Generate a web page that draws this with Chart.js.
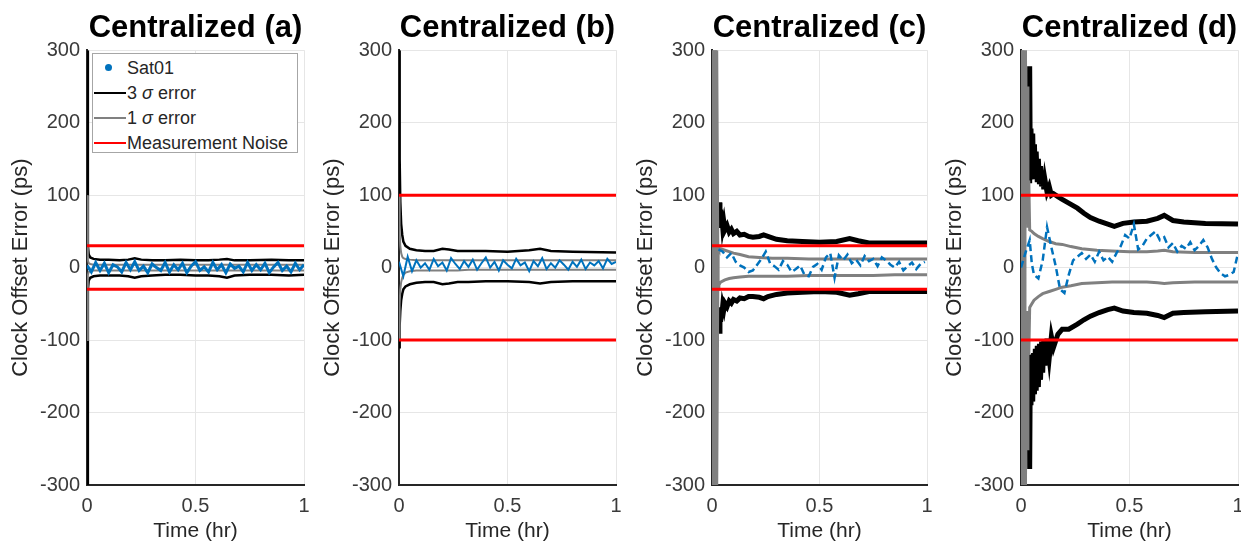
<!DOCTYPE html>
<html>
<head>
<meta charset="utf-8">
<script src="https://cdn.jsdelivr.net/npm/chart.js@4.4.0/dist/chart.umd.min.js"></script>
<style>
  body { margin: 0; background: #fff; }
  #fig { position: relative; width: 1241px; height: 544px; overflow: hidden; font-family: "Liberation Sans", Arial, sans-serif; }
  #fig canvas { position: absolute; top: 0; }
  #legend { position: absolute; left: 92px; top: 53px; width: 206px; height: 100px; border: 1px solid #a6a6a6; background: #fff; box-sizing: border-box; font-size: 18px; color: #262626; }
  .item { position: absolute; left: 0; width: 100%; height: 20px; }
  .sw { position: absolute; left: 1px; width: 32px; top: 9px; height: 2px; }
  .dot { position: absolute; left: 12px; top: 6px; width: 7px; height: 7px; border-radius: 50%; background: #0072bd; }
  .lbl { position: absolute; left: 34px; top: 0; line-height: 20px; white-space: nowrap; }
</style>
</head>
<body>
<div id="fig">
  <canvas id="pa"></canvas>
  <canvas id="pb"></canvas>
  <canvas id="pc"></canvas>
  <canvas id="pd"></canvas>
  <div id="legend">
    <div class="item" style="top:4px"><div class="dot"></div><span class="lbl">Sat01</span></div>
    <div class="item" style="top:29px"><div class="sw" style="background:#000"></div><span class="lbl">3 <i>σ</i> error</span></div>
    <div class="item" style="top:54px"><div class="sw" style="background:#808080"></div><span class="lbl">1 <i>σ</i> error</span></div>
    <div class="item" style="top:79px"><div class="sw" style="background:#ff0000"></div><span class="lbl">Measurement Noise</span></div>
  </div>
</div>
<script>
// axis ticks
var xTicks = [0, 0.5, 1];
var yTicks = [-300, -200, -100, 0, 100, 200, 300];
var tNoise = [0, 1];
var noiseLevels = [30, 100, 30, 100];

// Sat01 estimates, panels (a) and (b)
var tSatAB = [0, 0.02, 0.04, 0.06, 0.08, 0.1, 0.12, 0.14, 0.16, 0.18, 0.2, 0.22, 0.24, 0.26, 0.28, 0.3, 0.32, 0.34, 0.36, 0.38, 0.4, 0.42, 0.44, 0.46, 0.48, 0.5, 0.52, 0.54, 0.56, 0.58, 0.6, 0.62, 0.64, 0.66, 0.68, 0.7, 0.72, 0.74, 0.76, 0.78, 0.8, 0.82, 0.84, 0.86, 0.88, 0.9, 0.92, 0.94, 0.96, 0.98, 1];
var sat01A = [3, -6, 7, -4, 6, -7, 4, 1, -6, 7, -3, 8, -4, 2, -7, 5, 0, -4, 7, -6, 4, -3, 6, -7, 2, 8, -4, 1, -6, 7, -3, 4, -7, 5, -1, 2, -6, 7, -4, 4, -3, 6, -7, 1, 7, -4, 2, -6, 6, -3, 4];
var sat01B = [8, -12, 15, -5, 10, 0, 6, -3, 12, 2, 7, -4, 13, 5, -2, 9, 1, 11, -3, 6, 14, 0, 8, -4, 10, 4, -1, 12, 3, 7, -5, 9, 2, 13, -2, 6, 0, 10, 4, -3, 8, 1, 11, -2, 7, 3, 9, -1, 12, 5, 8];

// sigma envelopes, panel (a)
var tSigA = [0, 0.004, 0.008, 0.015, 0.03, 0.06, 0.1, 0.15, 0.19, 0.22, 0.25, 0.3, 0.36, 0.43, 0.5, 0.56, 0.61, 0.645, 0.68, 0.75, 0.85, 0.93, 1];
var sig3UpA = [300, 30, 18, 14, 12, 11, 11, 10, 11, 13, 11, 10, 10, 11, 10, 10, 11, 12, 10, 10, 11, 10, 10];
var sig3LoA = [-300, -30, -18, -14, -12, -11, -11, -11, -12, -14, -12, -11, -10, -10, -11, -11, -12, -14, -11, -10, -10, -11, -10];
var sig1UpA = [100, 10, 6, 5, 4, 4, 4, 4, 4, 4, 4, 4, 4, 4, 4, 4, 4, 4, 4, 4, 4, 4, 4];
var sig1LoA = [-100, -10, -6, -5, -4, -4, -4, -4, -4, -4, -4, -4, -4, -4, -4, -4, -4, -4, -4, -4, -4, -4, -4];

// panel (b)
var tSigB = [0, 0.003, 0.006, 0.01, 0.015, 0.02, 0.03, 0.05, 0.08, 0.12, 0.16, 0.2, 0.23, 0.27, 0.32, 0.4, 0.5, 0.6, 0.65, 0.7, 0.8, 1];
var sig3UpB = [300, 150, 90, 60, 45, 36, 30, 26, 24, 23, 23, 26, 25, 23, 23, 23, 22, 24, 26, 23, 22, 21];
var sig3LoB = [-110, -80, -60, -45, -36, -30, -26, -23, -21, -20, -20, -23, -22, -20, -20, -19, -19, -20, -22, -20, -19, -19];
var sig1UpB = [100, 50, 30, 20, 15, 13, 12, 11, 10, 10, 10, 10, 10, 10, 10, 10, 10, 10, 10, 10, 10, 10];
var sig1LoB = [-100, -50, -30, -20, -14, -10, -7, -5, -4, -4, -4, -4, -4, -4, -3, -3, -3, -3, -3, -3, -3, -3];

// panel (c)
var tSatC = [0.03, 0.05, 0.07, 0.09, 0.11, 0.13, 0.15, 0.17, 0.19, 0.21, 0.23, 0.25, 0.27, 0.29, 0.31, 0.33, 0.35, 0.37, 0.39, 0.41, 0.43, 0.45, 0.47, 0.49, 0.51, 0.53, 0.55, 0.57, 0.59, 0.61, 0.63, 0.65, 0.67, 0.69, 0.71, 0.73, 0.75, 0.77, 0.79, 0.81, 0.83, 0.85, 0.87, 0.89, 0.91, 0.93, 0.95, 0.97, 0.99];
var sat01C = [25, 22, 14, 20, 8, 3, 0, -6, -4, 4, 12, 22, 6, 2, -3, 9, 4, -6, -2, 3, -10, -12, 1, 5, -3, 14, 20, -14, 17, 10, 18, 6, 11, 3, 16, 9, 12, 2, 14, 10, 4, 0, 8, -4, 2, 7, -2, 5, 8];
var tSig3C = [0.03, 0.032, 0.035, 0.037, 0.04, 0.043, 0.046, 0.05, 0.055, 0.06, 0.07, 0.08, 0.09, 0.1, 0.115, 0.13, 0.15, 0.17, 0.19, 0.22, 0.24, 0.26, 0.3, 0.35, 0.42, 0.5, 0.58, 0.64, 0.68, 0.73, 0.8, 0.9, 1];
var sig3UpC = [60, 70, 90, 62, 80, 58, 70, 55, 63, 52, 58, 49, 53, 47, 50, 45, 46, 43, 42, 43, 45, 43, 39, 37, 36, 35, 36, 40, 37, 34, 34, 34, 34];
var sig3LoC = [-60, -65, -88, -58, -75, -55, -65, -52, -58, -49, -54, -46, -49, -44, -46, -42, -43, -40, -40, -41, -43, -40, -37, -35, -34, -33, -34, -38, -36, -33, -33, -33, -33];
var tSig1C = [0.004, 0.01, 0.016, 0.022, 0.028, 0.032, 0.04, 0.06, 0.08, 0.1, 0.13, 0.17, 0.22, 0.28, 0.35, 0.45, 0.55, 0.65, 0.75, 0.85, 1];
var sig1UpC = [420, -400, 400, -300, 30, 27, 26, 24, 22, 20, 18, 15, 14, 13, 13, 12, 12, 12, 12, 12, 12];
var sig1LoC = [-420, 400, -400, 300, -30, -24, -20, -17, -15, -14, -13, -12, -12, -12, -12, -11, -11, -11, -11, -10, -10];

// panel (d)
var tSatD = [0, 0.02, 0.04, 0.05, 0.06, 0.08, 0.1, 0.12, 0.14, 0.16, 0.18, 0.2, 0.22, 0.24, 0.26, 0.28, 0.3, 0.32, 0.34, 0.36, 0.38, 0.4, 0.42, 0.44, 0.46, 0.48, 0.5, 0.52, 0.54, 0.56, 0.58, 0.6, 0.62, 0.64, 0.66, 0.68, 0.7, 0.72, 0.74, 0.76, 0.78, 0.8, 0.82, 0.84, 0.86, 0.88, 0.9, 0.92, 0.94, 0.96, 0.98, 1];
var sat01D = [0, 20, 38, 5, -10, -15, 10, 56, 28, 2, -30, -35, -10, 10, 15, 20, 12, 18, 8, 22, 10, 15, 8, 20, 30, 45, 40, 60, 25, 30, 40, 45, 50, 38, 42, 28, 34, 22, 30, 26, 35, 24, 30, 38, 28, 12, 0, -8, -12, -10, -6, 20];
var tSig3D = [0.038, 0.04, 0.043, 0.046, 0.05, 0.054, 0.058, 0.062, 0.066, 0.07, 0.075, 0.08, 0.085, 0.09, 0.095, 0.1, 0.105, 0.11, 0.12, 0.13, 0.14, 0.15, 0.17, 0.19, 0.22, 0.26, 0.29, 0.32, 0.36, 0.4, 0.43, 0.47, 0.52, 0.58, 0.63, 0.66, 0.7, 0.75, 0.85, 1];
var sig3UpD = [120, 278, 125, 192, 125, 185, 125, 170, 122, 160, 118, 150, 115, 140, 112, 130, 108, 122, 104, 112, 100, 102, 98, 94, 89, 82, 75, 69, 64, 60, 57, 61, 63, 64, 68, 72, 65, 63, 61, 60];
var sig3LoD = [-120, -278, -125, -190, -120, -185, -118, -175, -112, -170, -108, -165, -105, -155, -102, -145, -100, -135, -98, -125, -95, -110, -92, -85, -85, -78, -72, -67, -62, -58, -56, -60, -62, -63, -66, -69, -63, -62, -61, -60];
var tSig1D = [0.004, 0.008, 0.012, 0.016, 0.02, 0.024, 0.028, 0.032, 0.036, 0.04, 0.05, 0.06, 0.08, 0.1, 0.13, 0.16, 0.19, 0.23, 0.28, 0.35, 0.42, 0.5, 0.58, 0.63, 0.66, 0.7, 0.8, 0.9, 1];
var sig1UpD = [420, -300, 400, -200, 350, 60, 250, 55, 120, 52, 50, 47, 43, 40, 36, 33, 32, 29, 26, 24, 23, 22, 22, 23, 24, 22, 21, 21, 21];
var sig1LoD = [-420, 300, -400, 200, -350, -60, -250, -60, -120, -55, -50, -45, -40, -36, -33, -30, -27, -25, -22, -21, -20, -20, -20, -21, -22, -21, -20, -20, -20];

var FONT = '"Liberation Sans", Arial, sans-serif';
var BLUE = '#0072bd', GRAY = '#808080', RED = '#ff0000';

function pts(t, v) {
  return t.map(function(x, i) { return { x: x, y: v[i] }; });
}
function flat(t, v) {
  return t.map(function(x) { return { x: x, y: v }; });
}
function line(data, color, width, extra) {
  return Object.assign({ data: data, borderColor: color, backgroundColor: color, borderWidth: width,
    pointRadius: 0, fill: false, tension: 0 }, extra || {});
}

function panel(id, left, plotW, title, sets) {
  var cv = document.getElementById(id);
  cv.width = 87 + plotW + 8;
  cv.height = 544;
  cv.style.left = left + 'px';
  new Chart(cv, {
    type: 'line',
    data: { datasets: sets },
    options: {
      responsive: false, animation: false, devicePixelRatio: 1,
      layout: { padding: { left: 0, right: 8, top: 0, bottom: 0 } },
      plugins: {
        legend: { display: false },
        tooltip: { enabled: false },
        title: { display: true, text: title, fullSize: false, color: '#000',
          font: { size: 31, weight: 'bold', family: FONT }, padding: { top: 10, bottom: 3 } }
      },
      scales: {
        x: {
          type: 'linear', min: 0, max: 1,
          afterBuildTicks: function(s) { s.ticks = xTicks.map(function(v) { return { value: v }; }); },
          afterFit: function(s) { s.height = 59; s.paddingLeft = 0; s.paddingRight = 0; },
          grid: { color: '#e6e6e6', drawTicks: false },
          border: { color: '#262626', width: 2 },
          ticks: { color: '#3a3a3a', font: { size: 20, family: FONT }, padding: 9, maxRotation: 0,
            callback: function(v) { return String(v); } },
          title: { display: true, text: 'Time (hr)', color: '#262626', font: { size: 21, family: FONT },
            padding: { top: 0, bottom: 0 } }
        },
        y: {
          type: 'linear', min: -300, max: 300,
          afterBuildTicks: function(s) { s.ticks = yTicks.map(function(v) { return { value: v }; }); },
          afterFit: function(s) { s.width = 87; },
          grid: { color: '#e6e6e6', drawTicks: false },
          border: { color: '#262626', width: 2 },
          ticks: { color: '#3a3a3a', font: { size: 20, family: FONT }, padding: 7,
            callback: function(v) { return String(v); } },
          title: { display: true, text: 'Clock Offset Error (ps)', color: '#262626', font: { size: 22, family: FONT },
            padding: { top: 8, bottom: 0 } }
        }
      }
    }
  });
}

function sets(n, tSat, sat, tS3, up3, lo3, tS1, up1, lo1, w3, w1, wb, dash) {
  return [
    line(flat(tNoise, noiseLevels[n]), RED, 3),
    line(flat(tNoise, -noiseLevels[n]), RED, 3),
    line(pts(tSat, sat), BLUE, wb, dash ? { borderDash: dash } : {}),
    line(pts(tS1, up1), GRAY, w1),
    line(pts(tS1, lo1), GRAY, w1),
    line(pts(tS3, up3), '#000', w3),
    line(pts(tS3, lo3), '#000', w3)
  ];
}

panel('pa', 0, 217, 'Centralized (a)', sets(0, tSatAB, sat01A, tSigA, sig3UpA, sig3LoA, tSigA, sig1UpA, sig1LoA, 2.5, 2, 3, null));
panel('pb', 312, 217, 'Centralized (b)', sets(1, tSatAB, sat01B, tSigB, sig3UpB, sig3LoB, tSigB, sig1UpB, sig1LoB, 2.5, 2, 2, null));
panel('pc', 625, 215, 'Centralized (c)', sets(2, tSatC, sat01C, tSig3C, sig3UpC, sig3LoC, tSig1C, sig1UpC, sig1LoC, 5, 3, 2.5, [7, 4]));
panel('pd', 934, 217, 'Centralized (d)', sets(3, tSatD, sat01D, tSig3D, sig3UpD, sig3LoD, tSig1D, sig1UpD, sig1LoD, 5, 3, 2.5, [7, 4]));
</script>
</body>
</html>
